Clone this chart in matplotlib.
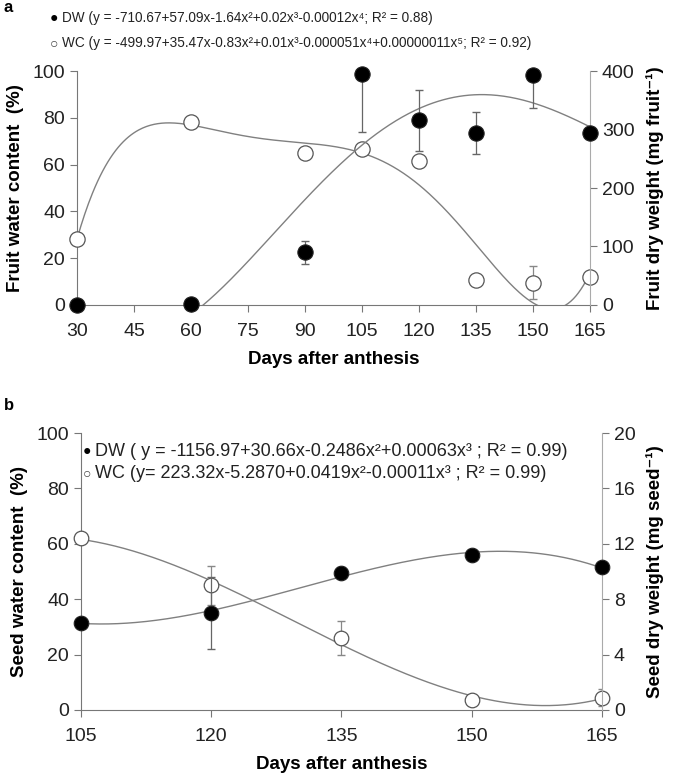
import numpy as np
import matplotlib.pyplot as plt

plt.rcParams['font.family'] = ['Liberation Sans', 'DejaVu Sans']

# panel a: fruit
days_a = [30, 60, 90, 105, 120, 135, 150, 165]
fruit_dw = [0, 2, 90, 395, 316, 294, 394, 294]          # mg fruit-1 (right axis)
fruit_dw_err = [0, 0, 20, 100, 52, 36, 58, 0]
fruit_wc = [28, 78, 65, 66.5, 61.5, 10.5, 9.5, 12]       # % (left axis)
fruit_wc_err = [0.5, 1.5, 1.5, 0.5, 2, 1, 7, 1.5]

# panel b: seed
days_b = [105, 120, 135, 150, 165]
seed_dw = [6.3, 7.0, 9.9, 11.2, 10.3]                    # mg seed-1 (right axis)
seed_dw_err = [0.4, 2.6, 0.4, 0.2, 0.2]
seed_wc = [62, 45, 26, 3.5, 4.5]                         # %
seed_wc_err = [1, 7, 6.3, 1.5, 3]

leg_a = ['DW (y = -710.67+57.09x-1.64x²+0.02x³-0.00012x⁴; R² = 0.88)',
         'WC (y = -499.97+35.47x-0.83x²+0.01x³-0.000051x⁴+0.00000011x⁵; R² = 0.92)']
leg_b = ['DW ( y = -1156.97+30.66x-0.2486x²+0.00063x³ ; R² = 0.99)',
         'WC (y= 223.32x-5.2870+0.0419x²-0.00011x³ ; R² = 0.99)']

CURVE = '#808080'
EDGE = '#555555'
TICK_FS = 14
LAB_FS = 13.5


def style_axes(ax, ax2, xticks, yticks, y2ticks):
    for a in (ax, ax2):
        a.spines['top'].set_visible(False)
        a.tick_params(direction='out', length=5, width=0.8, color='#777777', labelsize=TICK_FS,
                      labelcolor='#222222')
    ax.spines['right'].set_visible(False)
    ax2.spines['left'].set_visible(False)
    ax2.spines['bottom'].set_visible(False)
    for s in ('left', 'bottom'):
        ax.spines[s].set_color('#777777')
    ax2.spines['right'].set_color('#aaaaaa')
    ax.set_xticks(xticks)
    ax.set_yticks(yticks)
    ax2.set_yticks(y2ticks)
    ax.tick_params(axis='x', pad=8)


def draw(ax, ax2, x, wc, wc_err, dw, dw_err, deg_wc, deg_dw, xr, ms):
    xs = np.linspace(xr[0], xr[1], 400)
    pw = np.polyfit(x, wc, deg_wc)
    pd_ = np.polyfit(x, dw, deg_dw)
    ax.plot(xs, np.polyval(pw, xs), color=CURVE, lw=1, zorder=2)
    ax2.plot(xs, np.polyval(pd_, xs), color=CURVE, lw=1, zorder=2)
    ax.errorbar(x, wc, yerr=wc_err, fmt='none', ecolor='#888888', elinewidth=0.9,
                capsize=3, zorder=3)
    ax2.errorbar(x, dw, yerr=dw_err, fmt='none', ecolor='#666666', elinewidth=0.9,
                 capsize=3, zorder=3)
    ax.plot(x, wc, 'o', ms=ms, mfc='white', mec=EDGE, mew=0.9, clip_on=False, zorder=4)
    ax2.plot(x, dw, 'o', ms=ms, mfc='black', mec='#222222', mew=0.8, clip_on=False, zorder=4)


fig = plt.figure(figsize=(6.85, 7.84), dpi=100)

# ---- panel a
axa = fig.add_axes([0.1124, 0.611, 0.749, 0.2984])
axa2 = axa.twinx()
axa.set_xlim(30, 165)
axa.set_ylim(0, 100)
axa2.set_ylim(0, 400)
draw(axa, axa2, days_a, fruit_wc, fruit_wc_err, fruit_dw, fruit_dw_err, 5, 4, (30, 165), 11)
style_axes(axa, axa2, [30, 45, 60, 75, 90, 105, 120, 135, 150, 165],
           [0, 20, 40, 60, 80, 100], [0, 100, 200, 300, 400])
axa.set_ylabel('Fruit water content  (%)', fontsize=LAB_FS, fontweight='bold', labelpad=6)
axa2.set_ylabel('Fruit dry weight (mg fruit⁻¹)', fontsize=LAB_FS, fontweight='bold', labelpad=8)
axa.set_xlabel('Days after anthesis', fontsize=LAB_FS, fontweight='bold', labelpad=8)

# ---- panel b
axb = fig.add_axes([0.1182, 0.0944, 0.7606, 0.3533])
axb2 = axb.twinx()
axb.set_xlim(105, 165)
axb.set_ylim(0, 100)
axb2.set_ylim(0, 20)
draw(axb, axb2, days_b, seed_wc, seed_wc_err, seed_dw, seed_dw_err, 3, 3, (105, 165), 10.5)
style_axes(axb, axb2, days_b, [0, 20, 40, 60, 80, 100], [0, 4, 8, 12, 16, 20])
axb.set_ylabel('Seed water content  (%)', fontsize=LAB_FS, fontweight='bold', labelpad=6)
axb2.set_ylabel('Seed dry weight (mg seed⁻¹)', fontsize=LAB_FS, fontweight='bold', labelpad=8)
axb.set_xlabel('Days after anthesis', fontsize=LAB_FS, fontweight='bold', labelpad=8)

# legends as text with small markers
fig.text(54 / 685, 1 - 18 / 784, '●', fontsize=10, va='center', ha='center', color='black')
fig.text(62 / 685, 1 - 18 / 784, leg_a[0], fontsize=9.8, va='center', color='#222222')
fig.text(54 / 685, 1 - 43 / 784, '○', fontsize=10, va='center', ha='center', color='#444444')
fig.text(62 / 685, 1 - 43 / 784, leg_a[1], fontsize=9.8, va='center', color='#222222')

fig.text(87 / 685, 1 - 451 / 784, '●', fontsize=10, va='center', ha='center', color='black')
fig.text(95 / 685, 1 - 451 / 784, leg_b[0], fontsize=13, va='center', color='#222222')
fig.text(87 / 685, 1 - 473 / 784, '○', fontsize=10, va='center', ha='center', color='#444444')
fig.text(95 / 685, 1 - 473 / 784, leg_b[1], fontsize=13, va='center', color='#222222')

fig.text(4 / 685, 1 - 7 / 784, 'a', fontsize=12, fontweight='bold', va='center')
fig.text(4 / 685, 1 - 405 / 784, 'b', fontsize=12, fontweight='bold', va='center')

fig.savefig('out.png', dpi=100)
